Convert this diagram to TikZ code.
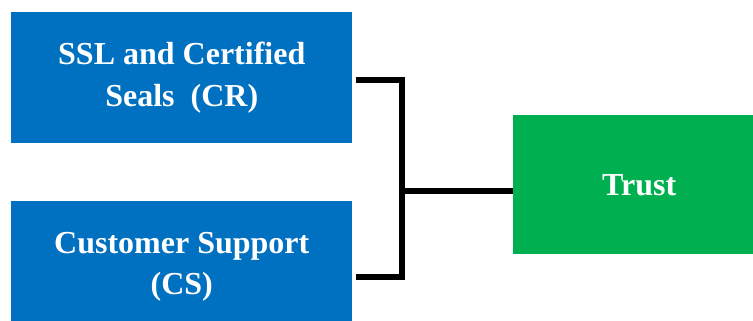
\documentclass[tikz,border=0pt]{standalone}
\usepackage{fontspec}
\setmainfont{Liberation Serif}
\definecolor{boxblue}{HTML}{0070C0}
\definecolor{boxgreen}{HTML}{00B050}
\begin{document}
\begin{tikzpicture}[x=0.75pt,y=-0.75pt,
    factor/.style={fill=boxblue,text=white,inner sep=0pt,align=center,
      font=\bfseries\fontsize{24}{31}\selectfont,
      minimum width=255.75pt,minimum height=98.25pt,anchor=north west},
    result/.style={factor,fill=boxgreen,minimum width=180pt,minimum height=104.25pt},
    bracket/.style={line width=4.2pt,line join=miter}]
   \useasboundingbox (0,0) rectangle (753,321) ;
   \node[factor] (seals) at (11,12) {SSL and Certified\\Seals\ \ (CR)} ;
   \node[factor] (support) at (11,201) {Customer Support\\(CS)} ;
   \node[result] (trust) at (513,115) {\hspace*{9pt}Trust} ;
   % bracket joining both factors
   \coordinate (crEnd) at (356,80) ;
   \coordinate (csEnd) at (356,277) ;
   \coordinate (join) at (402,191) ;
   \draw[bracket] (crEnd) -| (join) |- (csEnd) ;
   \draw[bracket] (join) -- (trust.west |- join) ;
\end{tikzpicture}
\end{document}
